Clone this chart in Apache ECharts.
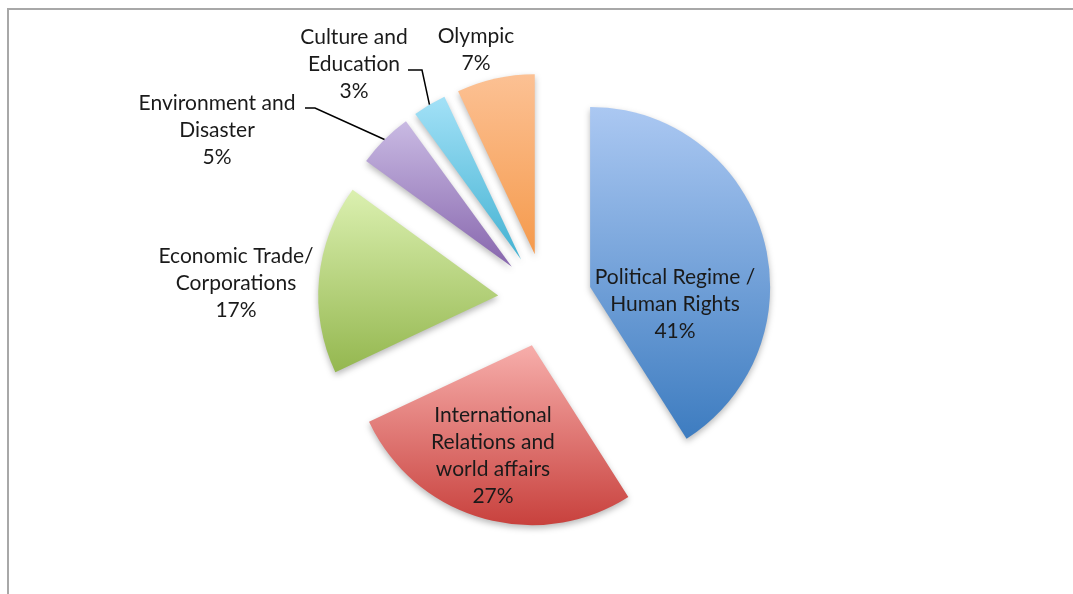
<!DOCTYPE html>
<html>
<head>
<meta charset="utf-8">
<script src="https://cdn.jsdelivr.net/npm/echarts@6/dist/echarts.min.js"></script>
<style>
html,body{margin:0;padding:0;background:#fff;}
#chart{width:1073px;height:594px;}
</style>
</head>
<body>
<div id="chart"></div>
<script>
const categories = ['Political Regime /\nHuman Rights', 'International\nRelations and\nworld affairs', 'Economic Trade/\nCorporations', 'Environment and\nDisaster', 'Culture and\nEducation', 'Olympic'];
const values = [41, 27, 17, 5, 3, 7];
const topColors = ['#abc8f2', '#f7aeab', '#dbf0b0', '#c9bae3', '#a3e1f7', '#fcc194'];
const bottomColors = ['#3d7cc0', '#c8413d', '#94b74f', '#8766ad', '#43b2d2', '#f59a4c'];

// label layout (text placement only)
const labelCenters = [[675, 304], [493, 456], [236, 283], [217, 130], [354, 64], [476, 50]];
const leaderStarts = { 3: [[305, 108], [315, 108]], 4: [[408, 70], [422, 70]] };

const PIE_CENTER = [545, 300];
const PIE_RADIUS = 180;
const EXPLODE = 47;

const chart = echarts.init(document.getElementById('chart'));

const sliceData = categories.map((name, i) => ({
  name: name,
  value: values[i],
  selected: true,
  itemStyle: {
    color: new echarts.graphic.LinearGradient(0, 0, 0, 1, [
      { offset: 0, color: topColors[i] },
      { offset: 1, color: bottomColors[i] }
    ])
  }
}));

const labelData = categories.map((name, i) => ({
  name: name,
  value: values[i],
  labelLine: { show: !!leaderStarts[i] }
}));

// edge point of the exploded slice at its mid angle, from the library's own layout
function explodedEdge(i) {
  const lay = chart.getModel().getSeriesByIndex(0).getData().getItemLayout(i);
  const mid = (lay.startAngle + lay.endAngle) / 2;
  return [
    lay.cx + Math.cos(mid) * (lay.r + EXPLODE),
    lay.cy + Math.sin(mid) * (lay.r + EXPLODE)
  ];
}

chart.setOption({
  animation: false,
  graphic: [{
    type: 'rect',
    silent: true,
    shape: { x: 8, y: 9, width: 1200, height: 800 },
    style: { fill: 'none', stroke: '#a8a8a8', lineWidth: 2 }
  }],
  series: [{
    type: 'pie',
    center: PIE_CENTER,
    radius: [0, PIE_RADIUS],
    startAngle: 90,
    clockwise: true,
    selectedMode: 'multiple',
    selectedOffset: EXPLODE,
    silent: true,
    emphasis: { disabled: true },
    itemStyle: {
      shadowBlur: 6,
      shadowOffsetY: 3,
      shadowColor: 'rgba(0,0,0,0.28)'
    },
    label: { show: false },
    labelLine: { show: false },
    data: sliceData
  }, {
    type: 'pie',
    center: PIE_CENTER,
    radius: [0, PIE_RADIUS],
    startAngle: 90,
    clockwise: true,
    silent: true,
    z: 3,
    avoidLabelOverlap: false,
    emphasis: { disabled: true },
    itemStyle: { color: 'rgba(0,0,0,0)' },
    label: {
      show: true,
      position: 'outside',
      formatter: '{b}\n{c}%',
      fontFamily: 'Lato',
      fontSize: 21,
      lineHeight: 27,
      color: '#1a1a1a',
      align: 'center'
    },
    labelLine: {
      lineStyle: { color: '#000', width: 1.5 },
      smooth: false
    },
    labelLayout: function (p) {
      const i = p.dataIndex;
      const c = labelCenters[i];
      const out = { x: c[0], y: c[1], align: 'center', verticalAlign: 'middle' };
      if (leaderStarts[i]) {
        out.labelLinePoints = [leaderStarts[i][0], leaderStarts[i][1], explodedEdge(i)];
      }
      return out;
    },
    data: labelData
  }]
});
</script>
</body>
</html>
